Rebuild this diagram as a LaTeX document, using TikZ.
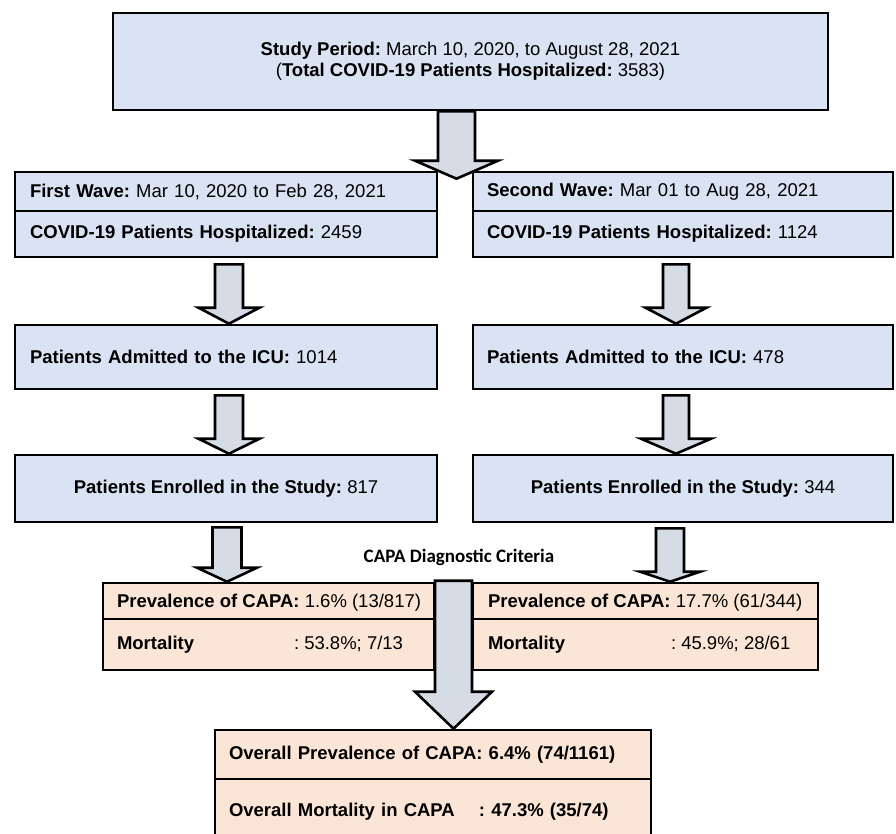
\documentclass[tikz,border=0pt]{standalone}
\usepackage{fontspec}
\setmainfont{Liberation Sans}
\newfontfamily\calfont{Carlito}
\usetikzlibrary{calc}
\definecolor{boxblue}{HTML}{DAE3F3}
\definecolor{boxpeach}{HTML}{FBE5D6}
\definecolor{arrowgray}{HTML}{D6DCE5}
% block arrow: x, top point, tip point, half shaft, half head, head length
\newcommand\fatarrow[6]{%
  \filldraw[fatarr] let \p1=#2, \p2=#3 in
    ({(#1-#4)*1pt},\y1) -- ({(#1+#4)*1pt},\y1) -- ({(#1+#4)*1pt},{\y2+#6pt})
    -- ({(#1+#5)*1pt},{\y2+#6pt}) -- ({#1pt},\y2) -- ({(#1-#5)*1pt},{\y2+#6pt})
    -- ({(#1-#4)*1pt},{\y2+#6pt}) -- cycle;}
\begin{document}
\frenchspacing
\begin{tikzpicture}[x=1pt, y=-1pt, line join=miter,
    box/.style={draw, line width=2.6pt, rectangle, inner sep=0pt, font=\fontsize{18.5}{21}\selectfont},
    bluebox/.style={box, fill=boxblue},
    peachbox/.style={box, fill=boxpeach},
    fatarr/.style={line width=2.6pt, draw=black, fill=arrowgray}]
    \useasboundingbox (0,0) rectangle (896,833);
    \clip (0,0) rectangle (896,833);
    % study period
    \node[bluebox, minimum width=715pt, minimum height=97pt, align=center] (study) at (470.5,61.5)
      {\textbf{Study Period:} March 10, 2020, to August 28, 2021\\
       (\textbf{Total COVID-19 Patients Hospitalized:} 3583)};
    % first wave
    \node[bluebox, minimum width=422pt, minimum height=39pt, text width=392pt, align=left] (w1a) at (226,191.5)
      {\textbf{First Wave:} Mar 10, 2020 to Feb 28, 2021};
    \node[bluebox, minimum width=422pt, minimum height=46pt, text width=392pt, align=left] (w1b) at (226,234)
      {\textbf{COVID-19 Patients Hospitalized:} 2459};
    \node[bluebox, minimum width=422pt, minimum height=64pt, text width=392pt, align=left] (icu1) at (226,357)
      {\textbf{Patients Admitted to the ICU:} 1014};
    \node[bluebox, minimum width=422pt, minimum height=67pt] (enr1) at (226,488.5)
      {\textbf{Patients Enrolled in the Study:} 817};
    % second wave
    \node[bluebox, minimum width=420pt, minimum height=39pt, text width=392pt, align=left] (w2a) at (683,191.5)
      {\textbf{Second Wave:} Mar 01 to Aug 28, 2021};
    \node[bluebox, minimum width=420pt, minimum height=46pt, text width=392pt, align=left] (w2b) at (683,234)
      {\textbf{COVID-19 Patients Hospitalized:} 1124};
    \node[bluebox, minimum width=420pt, minimum height=64pt, text width=392pt, align=left] (icu2) at (683,357)
      {\textbf{Patients Admitted to the ICU:} 478};
    \node[bluebox, minimum width=420pt, minimum height=67pt] (enr2) at (683,488.5)
      {\textbf{Patients Enrolled in the Study:} 344};
    % CAPA
    \node[font=\calfont\bfseries\fontsize{19}{21}\selectfont] (crit) at (459,557) {CAPA Diagnostic Criteria};
    \node[peachbox, minimum width=331pt, minimum height=39pt] (cap1a) at (268.5,602.5)
      {\makebox[303pt][l]{\textbf{Prevalence of CAPA:} 1.6\% (13/817)}};
    \node[peachbox, minimum width=331pt, minimum height=51pt] (cap1b) at (268.5,644.5)
      {\makebox[303pt][l]{\makebox[177pt][l]{\textbf{Mortality}}: 53.8\%; 7/13}};
    \node[peachbox, minimum width=345pt, minimum height=39pt] (cap2a) at (645.5,602.5)
      {\makebox[315pt][l]{\textbf{Prevalence of CAPA:} 17.7\% (61/344)}};
    \node[peachbox, minimum width=345pt, minimum height=51pt] (cap2b) at (645.5,644.5)
      {\makebox[315pt][l]{\makebox[183pt][l]{\textbf{Mortality}}: 45.9\%; 28/61}};
    % overall
    \node[peachbox, minimum width=436pt, minimum height=49pt, text width=408pt, align=left] (all1) at (433,754.5)
      {\textbf{Overall Prevalence of CAPA: 6.4\% (74/1161)}};
    \node[peachbox, minimum width=436pt, minimum height=66pt, text width=408pt, align=left] (all2) at (433,812)
      {\textbf{\makebox[250pt][l]{Overall Mortality in CAPA}: 47.3\% (35/74)}};
    % arrows
    \fatarrow{456.5}{(study.south)}{($(w1a.north)+(0,8)$)}{18.5}{41.5}{18}
    \fatarrow{229}{($(w1b.south)+(0,6)$)}{(icu1.north)}{14}{30.5}{16}
    \fatarrow{676}{($(w2b.south)+(0,6)$)}{(icu2.north)}{13}{30.5}{16}
    \fatarrow{229}{($(icu1.south)+(0,5)$)}{(enr1.north)}{14}{30.5}{15}
    \fatarrow{676}{($(icu2.south)+(0,5)$)}{(enr2.north)}{13}{35}{15}
    \fatarrow{227}{($(enr1.south)+(0,4)$)}{(cap1a.north)}{14.5}{30}{14}
    \fatarrow{670}{($(enr2.south)+(0,5)$)}{(cap2a.north)}{14}{30}{10}
    \fatarrow{453.5}{($(cap1a.north)+(0,-1)$)}{(all1.north)}{18.5}{38.5}{37}
\end{tikzpicture}
\end{document}
